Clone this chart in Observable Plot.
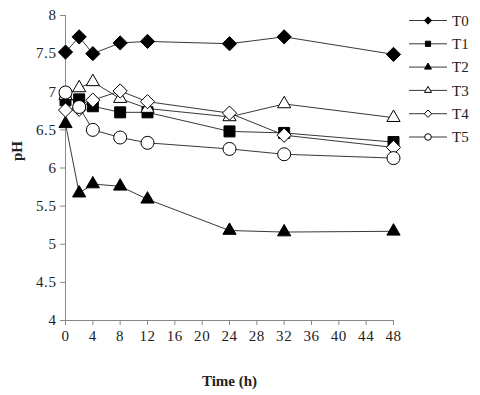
<!DOCTYPE html>
<html>
<head>
<meta charset="utf-8">
<script src="https://cdn.jsdelivr.net/npm/d3@7"></script>
<script src="https://cdn.jsdelivr.net/npm/@observablehq/plot@0.6"></script>
<style>
  html, body { margin: 0; padding: 0; background: #fff; }
  #chart { width: 480px; height: 395px; }
  #chart svg [aria-label="x-axis tick label"] text,
  #chart svg [aria-label="y-axis tick label"] text { letter-spacing: 0.6px; }
</style>
</head>
<body>
<div id="chart"></div>
<script>
// ---- data ----
const times = [0, 2, 4, 8, 12, 24, 32, 48];
const seriesNames = ["T0", "T1", "T2", "T3", "T4", "T5"];
const T0 = [7.52, 7.72, 7.50, 7.64, 7.66, 7.63, 7.72, 7.49];
const T1 = [6.89, 6.90, 6.81, 6.73, 6.73, 6.48, 6.46, 6.34];
const T2 = [6.58, 5.67, 5.79, 5.76, 5.59, 5.18, 5.16, 5.17];
const T3 = [6.95, 7.05, 7.13, 6.91, 6.78, 6.67, 6.84, 6.66];
const T4 = [6.76, 6.77, 6.89, 7.01, 6.87, 6.72, 6.43, 6.27];
const T5 = [6.99, 6.80, 6.50, 6.40, 6.33, 6.25, 6.18, 6.13];
const xTicks = [0, 4, 8, 12, 16, 20, 24, 28, 32, 36, 40, 44, 48];
const yTicks = [4, 4.5, 5, 5.5, 6, 6.5, 7, 7.5, 8];
const xLabel = "Time (h)";
const yLabel = "pH";

// ---- styles (not data) ----
const seriesValues = [T0, T1, T2, T3, T4, T5];
const symbols = ["diamond2", "square2", "triangle2", "triangle2", "diamond2", "circle"];
const fills = ["black", "black", "black", "white", "white", "white"];
const radii = [6.4, 7, 6.3, 6.3, 6.4, 6.5];
const fontFam = "'Liberation Serif', 'Times New Roman', serif";

const rows = [];
seriesNames.forEach((s, i) => {
  times.forEach((t, j) => rows.push({series: s, time: t, ph: seriesValues[i][j]}));
});

const dotMarks = seriesNames.map((s, i) =>
  Plot.dot(rows.filter(d => d.series === s), {
    x: "time", y: "ph", symbol: symbols[i], fill: fills[i],
    stroke: "black", strokeWidth: 1, r: radii[i]
  })
);

const chart = Plot.plot({
  width: 480,
  height: 395,
  marginLeft: 65,
  marginRight: 87,
  marginTop: 15,
  marginBottom: 75,
  style: {fontFamily: fontFam, fontSize: "15px", background: "white", color: "#222"},
  x: {domain: [0, 48]},
  y: {domain: [4, 8]},
  marks: [
    Plot.ruleX([0], {stroke: "#888", strokeWidth: 1}),
    Plot.ruleY([4], {stroke: "#888", strokeWidth: 1}),
    Plot.axisX({ticks: xTicks, tickSize: 5, tickPadding: 5, stroke: "#888", fill: "#222", label: null, fontSize: 15, tickFormat: d => String(d)}),
    Plot.axisY({ticks: yTicks, tickSize: 5, tickPadding: 4, stroke: "#888", fill: "#222", label: null, fontSize: 15, tickFormat: d => String(d)}),
    Plot.text([yLabel], {frameAnchor: "left", dx: -48, dy: -7, rotate: -90, fontWeight: "bold", fontSize: 15}),
    Plot.text([xLabel], {frameAnchor: "bottom", dy: 65, fontWeight: "bold", fontSize: 15}),
    Plot.line(rows, {x: "time", y: "ph", z: "series", stroke: "#222", strokeWidth: 0.9}),
    ...dotMarks
  ]
});

document.getElementById("chart").appendChild(chart);

// ---- legend (drawn into the same SVG) ----
const svg = d3.select(chart);
const symMap = {diamond2: d3.symbolDiamond2, square2: d3.symbolSquare2, triangle2: d3.symbolTriangle2, circle: d3.symbolCircle};
const lg = svg.append("g").attr("font-family", fontFam).attr("font-size", 15).attr("text-anchor", "start");
seriesNames.forEach((s, i) => {
  const y = 20.5 + i * 23.3;
  const g = lg.append("g").attr("transform", `translate(0,${y})`);
  g.append("line").attr("x1", 409).attr("x2", 447).attr("y1", 0).attr("y2", 0).attr("stroke", "#222").attr("stroke-width", 0.9);
  g.append("path").attr("transform", "translate(428,0)")
    .attr("d", d3.symbol(symMap[symbols[i]], 3.3 * 3.3 * Math.PI)())
    .attr("fill", fills[i]).attr("stroke", "black").attr("stroke-width", 1);
  g.append("text").attr("x", 452).attr("y", 0).attr("dy", "0.35em").attr("text-anchor", "start").attr("fill", "#222").text(s);
});
</script>
</body>
</html>
